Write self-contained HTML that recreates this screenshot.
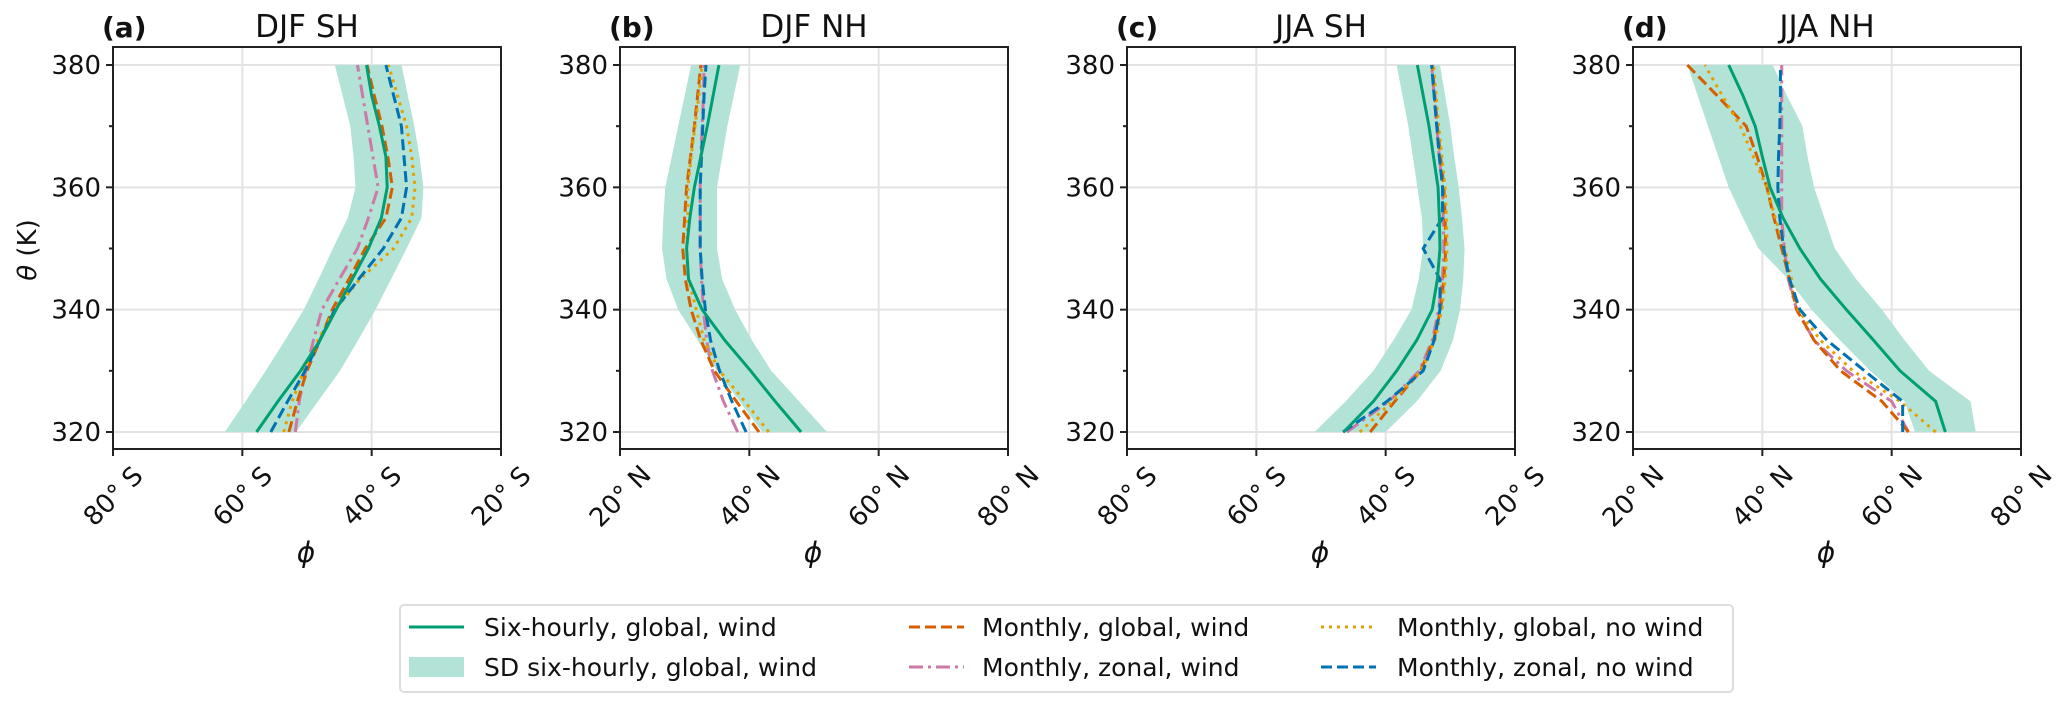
<!DOCTYPE html>
<html><head><meta charset="utf-8"><style>
body{margin:0;background:#fff;}
svg{display:block;font-family:"DejaVu Sans","Liberation Sans",sans-serif;}
</style></head><body>
<svg id="fig" width="2067" height="705" viewBox="0 0 2067 705" xmlns="http://www.w3.org/2000/svg"></svg>
<script>
const levels=[320,325,330,335,340,345,350,355,360,365,370,375,380];
const panelTitles=["DJF SH","DJF NH","JJA SH","JJA NH"];
const panelLetters=["(a)","(b)","(c)","(d)"];
const xTicksSH=[-80,-60,-40,-20];
const xTicksNH=[20,40,60,80];
const yTicks=[320,340,360,380];
// Panel a
const aSix=[-57.8,-54.5,-51,-48,-45.5,-43,-40.5,-38.5,-37.6,-37.8,-38.8,-40,-40.8];
const aLo=[-62.7,-59.5,-56.4,-53.4,-50.5,-48.2,-46,-43.7,-42.5,-42.8,-43.3,-44.5,-45.7];
const aHi=[-51.7,-48.3,-44.9,-42.1,-39.4,-37,-34.6,-32.3,-32,-32.6,-33.4,-34.4,-35.4];
const aMGW=[-52.8,-51.5,-50,-48,-46.1,-43.5,-41,-37.8,-36.8,-37.5,-38.4,-39.6,-40.7];
const aMZW=[-51.8,-51.2,-50.2,-49,-47.7,-45,-42.2,-40.5,-39,-39.8,-40.6,-41.4,-42.2];
const aMGN=[-53.6,-52.3,-50.5,-48.3,-45.7,-41.8,-36.6,-33.8,-33.3,-33.8,-34.6,-36,-37.4];
const aMZN=[-55.6,-53,-50.3,-48,-45.7,-42,-38.2,-35.4,-34.6,-35,-35.4,-36.6,-37.8];
// Panel b
const bSix=[48,44,40.2,36.2,32.7,30.6,30.3,30.8,31.5,32.5,33.5,34.4,35.3];
const bLo=[42,38.5,35,32,29,27.2,26.5,26.7,27,28,29,30,31];
const bHi=[52,47.7,43.4,40.4,37.8,35.8,35,35,35,35.8,36.6,37.6,38.6];
const bMGW=[41.5,38,34.6,32.5,31,30.1,29.7,30,30.3,30.9,31.5,32,32.5];
const bMZW=[38.2,36,34.3,33.4,32.9,32.6,32.4,32.4,32.4,32.5,32.7,32.9,33];
const bMGN=[43,39.3,35.4,33,31.8,30.6,30.3,30.5,30.5,31,31.6,32.2,32.7];
const bMZN=[39.5,37.3,35.4,34,33.2,32.7,32.4,32.4,32.4,32.6,32.8,33,33.3];
// Panel c
const cSix=[-46.5,-41.9,-38.3,-35.2,-32.8,-32,-31.6,-31.7,-31.9,-32.6,-33.3,-34.2,-35.1];
const cLo=[-51,-46.2,-41.9,-38.8,-36,-34.9,-34.2,-34.4,-35.1,-35.8,-36.5,-37.4,-38.3];
const cHi=[-40,-35.2,-31.5,-29.6,-28.5,-28,-27.8,-28.2,-28.7,-29.4,-30,-30.8,-31.6];
const cMGW=[-42.4,-38.6,-34.6,-32.6,-31.5,-31,-30.7,-30.8,-31,-31.5,-32,-32.4,-32.8];
const cMZW=[-46,-39.5,-34.8,-32.8,-31.8,-31.2,-31,-31.1,-31.2,-31.7,-32.1,-32.5,-32.9];
const cMGN=[-44,-39,-34.5,-32.4,-31.3,-30.8,-30.5,-30.6,-30.8,-31.3,-31.8,-32.2,-32.6];
const cMZN=[-46.6,-39.8,-34.2,-32.5,-31.6,-31.6,-34.2,-31.2,-31.2,-31.7,-32.1,-32.5,-32.9];
// Panel d
const dSix=[68.3,66.8,61.3,57.2,53,49,45.8,43.2,41.2,40,38.9,37,34.8];
const dLo=[63.6,62,56.7,52,47.6,44,39.4,37,34.8,33.2,31.6,30,28.4];
const dHi=[73,72.2,65.8,62,58.5,54.5,51.2,49.6,48,47,46.2,43.8,41.6];
const dMGW=[62.6,58.5,52.1,48,45.3,44.2,43,41.8,40.7,39.2,37.5,33,28.4];
const dMZW=[62.6,60,53,48,45.3,44,43.4,43,43,43,43,43,43];
const dMGN=[66.8,61.3,54,49,45.5,44.5,43.5,42,40.7,38.6,36.6,33.8,31.1];
const dMZN=[61.7,61.7,55.8,50,45.8,44.2,43.3,42.7,42.4,42.5,42.7,42.8,42.8];

const NS="http://www.w3.org/2000/svg";
const svg=document.getElementById('fig');
function mk(tag,attrs,parent){const e=document.createElementNS(NS,tag);for(const k in attrs)e.setAttribute(k,attrs[k]);(parent||svg).appendChild(e);return e;}
const GREEN="#009e73",BAND="#b3e3d6",OR="#d55e00",PINK="#cc79a7",YEL="#e69f00",BLUE="#0072b2";
const panels=[
 {left:113,sh:true,six:aSix,lo:aLo,hi:aHi,mgw:aMGW,mzw:aMZW,mgn:aMGN,mzn:aMZN},
 {left:620,sh:false,six:bSix,lo:bLo,hi:bHi,mgw:bMGW,mzw:bMZW,mgn:bMGN,mzn:bMZN},
 {left:1127,sh:true,six:cSix,lo:cLo,hi:cHi,mgw:cMGW,mzw:cMZW,mgn:cMGN,mzn:cMZN},
 {left:1633,sh:false,six:dSix,lo:dLo,hi:dHi,mgw:dMGW,mzw:dMZW,mgn:dMGN,mzn:dMZN}];
const W=388,TOP=47,BOT=449;
function yS(v){return 432+(v-320)*(65-432)/60;}
panels.forEach((p,i)=>{
  const x0=p.sh?-80:20;
  const xS=v=>p.left+(v-x0)*W/60;
  const g=mk('g',{});
  
  
  const ticks=p.sh?xTicksSH:xTicksNH;
  ticks.forEach(t=>{const l=mk('line',{x1:xS(t),x2:xS(t),y1:TOP,y2:BOT,stroke:'#e3e3e3','stroke-width':2},g);
    });
  yTicks.forEach(t=>{const l=mk('line',{x1:p.left,x2:p.left+W,y1:yS(t),y2:yS(t),stroke:'#e3e3e3','stroke-width':2},g);
    });
  let d='';levels.forEach((lv,k)=>{d+=(k?'L':'M')+xS(p.lo[k])+','+yS(lv);});
  for(let k=levels.length-1;k>=0;k--)d+='L'+xS(p.hi[k])+','+yS(levels[k]);
  const band=mk('path',{d:d+'Z',fill:BAND},g);
  
  const series=[[p.mzw,PINK,'14,5,3,5','monthly-zonal-wind-line'],[p.mgw,OR,'11,5','monthly-global-wind-line'],[p.mgn,YEL,'3,5','monthly-global-nowind-line'],[p.mzn,BLUE,'11,5','monthly-zonal-nowind-line'],[p.six,GREEN,'','six-hourly-line']];
  series.forEach(s=>{
    const pts=levels.map((lv,k)=>xS(s[0][k])+','+yS(lv)).join(' ');
    const a={points:pts,fill:'none',stroke:s[1],'stroke-width':3};
    if(s[2])a['stroke-dasharray']=s[2];
    const pl=mk('polyline',a,g);
    
  });
  const fr=mk('rect',{x:p.left,y:TOP,width:W,height:BOT-TOP,fill:'none',stroke:'#222','stroke-width':2},g);
  
  yTicks.forEach(t=>{mk('line',{x1:p.left-7,x2:p.left,y1:yS(t),y2:yS(t),stroke:'#222','stroke-width':2},g);
    const tx=mk('text',{x:p.left-12,y:yS(t)+9,'text-anchor':'end','font-size':26,fill:'#111'},g);tx.textContent=t;
    });
  [330,350,370].forEach(t=>mk('line',{x1:p.left-4,x2:p.left,y1:yS(t),y2:yS(t),stroke:'#222','stroke-width':2},g));
  ticks.forEach(t=>{const x=xS(t);mk('line',{x1:x,x2:x,y1:BOT,y2:BOT+7,stroke:'#222','stroke-width':2},g);
    const tx=mk('text',{x:x,y:505,'text-anchor':'middle','font-size':26,fill:'#111',transform:`rotate(-45 ${x} 496)`},g);
    tx.textContent=Math.abs(t)+'° '+(p.sh?'S':'N');
    });
  const xl=mk('text',{x:p.left+W/2-1,y:562,'text-anchor':'middle','font-size':28,'font-style':'italic',fill:'#111'},g);
  xl.textContent='ϕ';
  const lt=mk('text',{x:p.left-11,y:37,'font-size':28,'font-weight':'bold',fill:'#111'},g);
  lt.textContent=panelLetters[i];
  const tt=mk('text',{x:p.left+W/2,y:37,'text-anchor':'middle','font-size':31,fill:'#111'},g);
  tt.textContent=panelTitles[i];
});
const yl=mk('text',{x:0,y:0,'text-anchor':'middle','font-size':26,fill:'#111',transform:'translate(36 250) rotate(-90)'});
yl.innerHTML='<tspan font-style="italic">θ</tspan> (K)';
const lg=mk('g',{});
mk('rect',{x:400,y:605,width:1333,height:87,rx:4,fill:'#fff',stroke:'#ddd','stroke-width':2},lg);
const legItems=[[409,484,627,'Six-hourly, global, wind',GREEN,'','line'],[409,484,667,'SD six-hourly, global, wind',BAND,'','band'],
 [909,982,627,'Monthly, global, wind',OR,'11,5','line'],[909,982,667,'Monthly, zonal, wind',PINK,'14,5,3,5','line'],
 [1321,1397,627,'Monthly, global, no wind',YEL,'3,5','line'],[1321,1397,667,'Monthly, zonal, no wind',BLUE,'11,5','line']];
legItems.forEach(it=>{
  const e=mk('g',{},lg);
  if(it[6]==='band')mk('rect',{x:it[0],y:it[2]-10,width:55,height:20,fill:it[4]},e);
  else{const a={x1:it[0],x2:it[0]+55,y1:it[2],y2:it[2],stroke:it[4],'stroke-width':3};if(it[5])a['stroke-dasharray']=it[5];mk('line',a,e);}
  const t=mk('text',{x:it[1],y:it[2]+9,'font-size':25,fill:'#111'},e);t.textContent=it[3];
});
</script>
</body></html>
